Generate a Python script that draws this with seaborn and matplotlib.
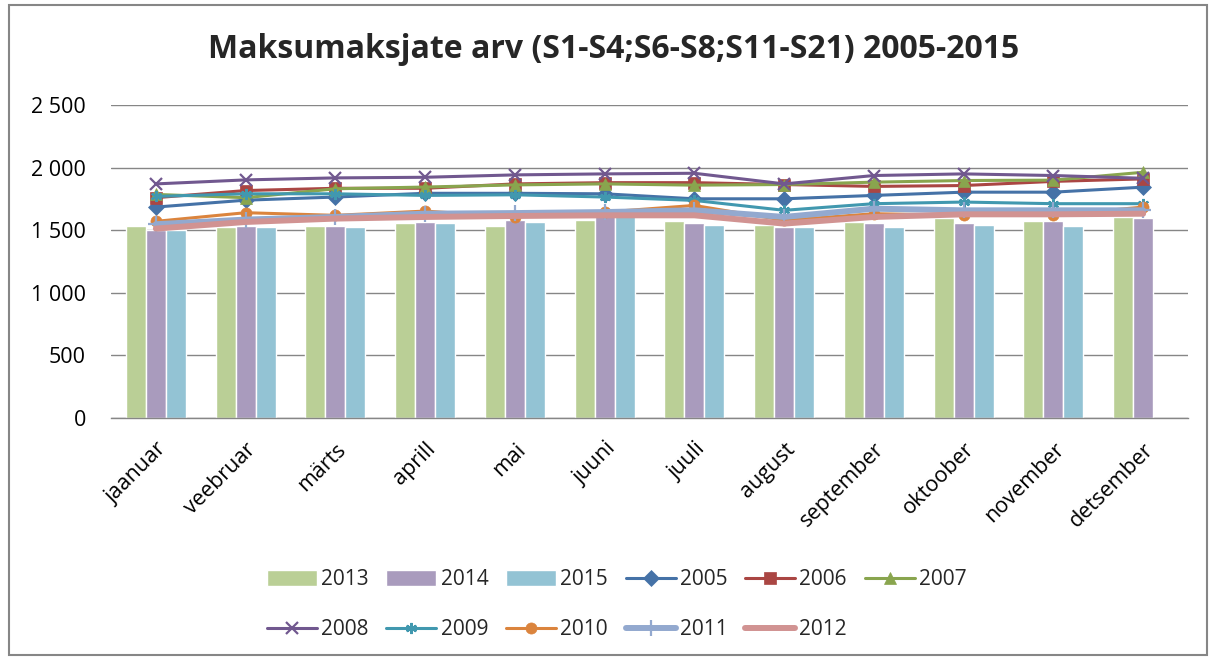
import numpy as np
import pandas as pd
import matplotlib
matplotlib.use("Agg")
import matplotlib.pyplot as plt
from matplotlib.patches import Rectangle
from matplotlib.ticker import FuncFormatter
import seaborn as sns

months = ["jaanuar", "veebruar", "märts", "aprill", "mai", "juuni",
          "juuli", "august", "september", "oktoober", "november", "detsember"]

# bar series
bar_2013 = [1533, 1523, 1533, 1557, 1533, 1584, 1576, 1541, 1568, 1594, 1573, 1603]
bar_2014 = [1502, 1531, 1533, 1568, 1580, 1615, 1560, 1528, 1560, 1557, 1573, 1597]
bar_2015 = [1500, 1525, 1525, 1557, 1565, 1620, 1544, 1525, 1528, 1541, 1533, np.nan]

# line series
y2005 = [1685, 1740, 1765, 1795, 1795, 1791, 1751, 1751, 1778, 1804, 1804, 1844]
y2006 = [1760, 1817, 1835, 1835, 1870, 1880, 1880, 1865, 1850, 1857, 1890, 1910]
y2007 = [1786, 1760, 1831, 1845, 1862, 1870, 1860, 1865, 1884, 1897, 1900, 1963]
y2008 = [1870, 1902, 1918, 1923, 1942, 1950, 1955, 1870, 1937, 1950, 1937, 1915]
y2009 = [1770, 1791, 1791, 1778, 1783, 1765, 1738, 1659, 1712, 1725, 1712, 1712]
y2010 = [1571, 1640, 1619, 1653, 1606, 1645, 1698, 1579, 1632, 1620, 1619, 1685]
y2011 = [1548, 1585, 1606, 1632, 1637, 1645, 1659, 1606, 1672, 1659, 1659, 1659]
y2012 = [1513, 1566, 1593, 1606, 1614, 1619, 1619, 1553, 1606, 1627, 1627, 1632]

bar_years = ["2013", "2014", "2015"]
bar_colors = ["#BACF96", "#A99BBD", "#93C3D4"]

line_years = ["2005", "2006", "2007", "2008", "2009", "2010", "2011", "2012"]
line_values = [y2005, y2006, y2007, y2008, y2009, y2010, y2011, y2012]
line_colors = ["#4572A7", "#AA4643", "#89A54E", "#71588F", "#4198AF", "#DB843D", "#93A9CF", "#D19392"]
line_markers = ["D", "s", "^", "x", (6, 2, 0), "o", "+", None]

sns.set_theme(style="white")
plt.rcParams["font.family"] = ["Open Sans", "DejaVu Sans"]

bars = pd.DataFrame({
    "kuu": months * 3,
    "aasta": np.repeat(bar_years, len(months)),
    "arv": bar_2013 + bar_2014 + bar_2015,
})

fig = plt.figure(figsize=(12.14, 6.61), dpi=100)
ax = fig.add_axes([0.0914, 0.3676, 0.8872, 0.4735])

sns.barplot(data=bars, x="kuu", y="arv", hue="aasta", palette=bar_colors,
            width=0.67, gap=0, saturation=1, ax=ax, zorder=2)

x = np.arange(len(months))
for yr, vals, col, mk in zip(line_years, line_values, line_colors, line_markers):
    thick = yr in ("2011", "2012")
    kw = dict(color=col, linewidth=4.3 if thick else 2.2, label=yr, ax=ax, zorder=3)
    if mk is not None:
        kw.update(marker=mk, markersize=11 if mk == "+" else 8,
                  markeredgecolor=col, markerfacecolor=col,
                  markeredgewidth=1.6 if mk in ("x", "+") or isinstance(mk, tuple) else 0.5)
    sns.lineplot(x=x, y=vals, **kw)

ax.set_xlim(-0.5, 11.5)
ax.set_ylim(0, 2500)
ax.set_yticks([0, 500, 1000, 1500, 2000, 2500])
ax.yaxis.set_major_formatter(FuncFormatter(lambda v, p: f"{int(v):,}".replace(",", " ")))
ax.grid(axis="y", color="#868686", linewidth=1)
ax.set_axisbelow(True)
for s in ["top", "right", "left"]:
    ax.spines[s].set_visible(False)
ax.spines["bottom"].set_color("#868686")
ax.spines["bottom"].set_linewidth(1)
ax.tick_params(axis="both", length=0, labelsize=15.5, colors="black")
ax.tick_params(axis="y", pad=18)
ax.set_xlabel("")
ax.set_ylabel("")
plt.setp(ax.get_xticklabels(), rotation=45, ha="right", rotation_mode="anchor")
ax.tick_params(axis="x", pad=15)

fig.text(0.505, 0.925, "Maksumaksjate arv (S1-S4;S6-S8;S11-S21) 2005-2015",
         ha="center", va="center", fontsize=23, fontweight="bold")

handles, labels = ax.get_legend_handles_labels()
ax.get_legend().remove()
lookup = dict(zip(labels, handles))
order = ["2013", "2008", "2014", "2009", "2015", "2010", "2005", "2011", "2006", "2012", "2007"]
fig.legend([lookup[o] for o in order], order, loc="center", bbox_to_anchor=(0.508, 0.085),
           ncol=6, frameon=False, fontsize=15, handlelength=2.4, handleheight=0.75,
           handletextpad=0.2, columnspacing=0.85, labelspacing=1.4)

fig.patches.append(Rectangle((0.0075, 0.009), 0.987, 0.983, transform=fig.transFigure,
                             fill=False, edgecolor="#868686", linewidth=1.5))

fig.savefig("out.png", dpi=100)
